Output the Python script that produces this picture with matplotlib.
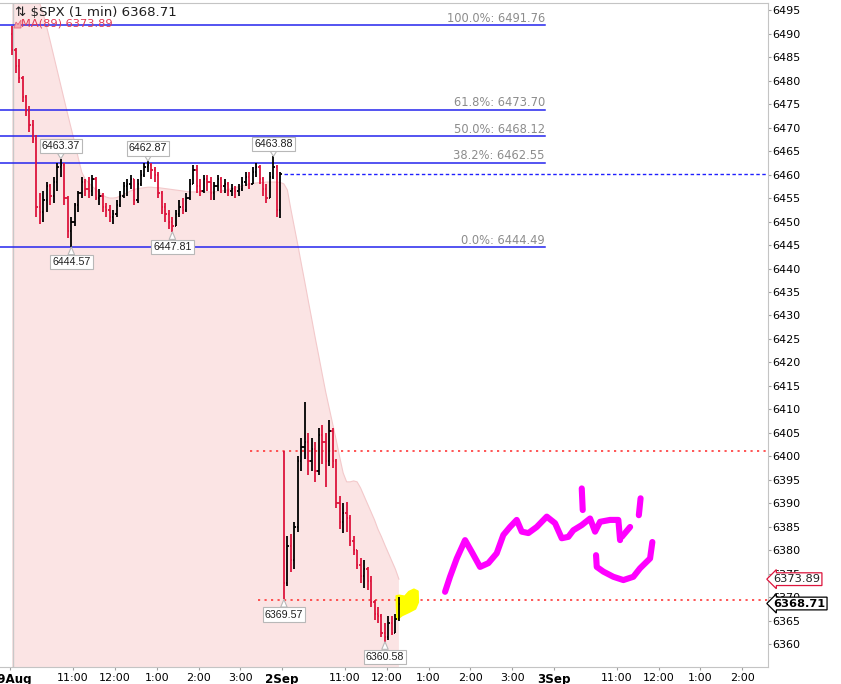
import numpy as np
import matplotlib.pyplot as plt
from matplotlib.collections import LineCollection
from matplotlib.patches import Polygon

# --- $SPX 1 min (5 minute steps) ---
# minutes counted from 29 Aug 9:30, each session is 390 min long
day0_open = 6490.0
day0_close = [6486.5, 6483, 6480.5, 6476.5, 6473.5, 6470.5, 6467.5, 6453, 6452, 6454.5,
              6457.5, 6455.5, 6458.5, 6461.5, 6462, 6455, 6448, 6450, 6453.5, 6456,
              6458.5, 6457, 6456.5, 6459, 6455, 6455.5, 6453, 6452.5, 6451, 6451.5,
              6453.5, 6455.5, 6457.5, 6458, 6459, 6454.5, 6458, 6460, 6461.5, 6462,
              6461, 6460, 6456, 6453, 6451.5, 6450, 6449, 6451.5, 6453, 6452.5,
              6455, 6458, 6461, 6457.5, 6456.5, 6459, 6458.5, 6456, 6457.5, 6459,
              6457.5, 6458, 6456.5, 6457, 6456.5, 6457, 6458.5, 6459.5, 6458, 6460.5,
              6461.5, 6459, 6457, 6455, 6459.5, 6461.5, 6452.5, 6460.1]
day0_high = [6491.5, 6487, 6484.5, 6481, 6477, 6474.5, 6471.5, 6468.5, 6456, 6456.5,
             6458.5, 6458, 6459.5, 6462.5, 6463.37, 6462.5, 6455.5, 6451, 6454, 6456.5,
             6459.5, 6459, 6459.5, 6460, 6459.5, 6457, 6456, 6454, 6453.5, 6452.5,
             6454.5, 6456.5, 6458.5, 6459, 6460, 6459, 6459, 6461, 6462.5, 6462.87,
             6462.5, 6461.5, 6460.5, 6456.5, 6454, 6452.5, 6451, 6452.5, 6454.5, 6455,
             6456, 6459, 6462, 6462, 6459, 6460, 6460, 6459.5, 6458.5, 6460,
             6459.5, 6459, 6458.5, 6458, 6457.5, 6458, 6459.5, 6460.5, 6460.5, 6461.5,
             6462.5, 6462, 6459.5, 6458, 6460.5, 6463.88, 6462, 6460.5]
day0_low = [6485.5, 6481.5, 6479.5, 6475.5, 6472.5, 6469, 6466.8, 6451, 6449.5, 6449.8,
            6452, 6453.5, 6454, 6456.5, 6459.5, 6453.5, 6446.5, 6444.57, 6449, 6452,
            6455, 6455.5, 6455, 6455.5, 6454.5, 6453.5, 6452, 6451, 6450, 6449.5,
            6451, 6453, 6455, 6455.5, 6457, 6453.5, 6454, 6457.5, 6459.5, 6460.5,
            6459, 6458.5, 6455, 6451.5, 6450, 6448.5, 6447.81, 6449, 6451, 6451.5,
            6452, 6454.5, 6458, 6456, 6455.5, 6456, 6456.5, 6454.5, 6454.5, 6456.5,
            6456, 6456, 6455.5, 6455.5, 6455, 6455.5, 6456.5, 6457.5, 6457, 6458,
            6459.5, 6458, 6455.5, 6454, 6455, 6459, 6451, 6450.7]
day0_ma = [6506, 6505, 6504, 6503, 6501.5, 6500, 6499, 6497.5, 6496.3, 6494,
           6491.2, 6488.2, 6485.1, 6482, 6478.9, 6475.8, 6472.7, 6469.7, 6466.7, 6463.5,
           6460.5, 6459, 6458.2, 6457.5, 6456.8, 6456.2, 6455.6, 6455.2, 6455, 6455,
           6455.1, 6455.4, 6455.8, 6456.1, 6456.5, 6456.8, 6457, 6457.1, 6457.2, 6457.3,
           6457.3, 6457.2, 6457.2, 6457.1, 6457, 6456.9, 6456.8, 6456.7, 6456.6, 6456.5,
           6456.4, 6456.3, 6456.3, 6456.3, 6456.3, 6456.3, 6456.3, 6456.3, 6456.3, 6456.4,
           6456.5, 6456.6, 6456.8, 6457, 6457.2, 6457.4, 6457.6, 6457.8, 6458, 6458.1,
           6458.2, 6458.3, 6458.3, 6458.4, 6458.4, 6458.4, 6458.4, 6458.3]

day1_open = 6401.0
day1_close = [6373, 6381, 6378, 6385, 6399, 6402, 6403, 6399, 6401.5, 6397,
              6404.5, 6403, 6399, 6405.5, 6399, 6390, 6386, 6388, 6387, 6382,
              6380, 6377, 6374.5, 6376, 6373.5, 6369, 6366.5, 6366, 6362.5, 6361.5,
              6364.5, 6362.5, 6365.5, 6368.71]
day1_high = [6401.1, 6383, 6383.5, 6386, 6400, 6404, 6411.6, 6405, 6404, 6403,
             6406, 6406.7, 6405, 6407.7, 6406, 6399.5, 6391.5, 6390, 6390.3, 6387.5,
             6383, 6380, 6378.5, 6378, 6376.5, 6374.5, 6369.5, 6368, 6366.5, 6364.5,
             6366, 6366, 6366.5, 6370.1]
day1_low = [6369.57, 6372.5, 6375.5, 6376, 6384, 6397, 6399.5, 6396, 6397, 6394.5,
            6396, 6398.5, 6393.5, 6398, 6397.5, 6389, 6384.5, 6383.7, 6384, 6381,
            6379, 6376, 6373, 6372, 6371.6, 6368, 6365.2, 6364.5, 6361.5, 6360.58,
            6361, 6362, 6362.5, 6365]
day1_ma = [6458, 6456.7, 6452.6, 6448.8, 6445, 6441, 6437.1, 6433.1, 6429.2, 6425.2,
           6421.4, 6417.5, 6413.7, 6410.3, 6406.9, 6403.5, 6399.9, 6396.5, 6394.6, 6394.6,
           6394.8, 6394.6, 6393.3, 6391.6, 6389.9, 6388.2, 6386.5, 6384.5, 6382.9, 6381.1,
           6379.4, 6377.7, 6376, 6373.89]

# fibonacci retracement
fib_pct = [100.0, 61.8, 50.0, 38.2, 0.0]
fib_val = [6491.76, 6473.70, 6468.12, 6462.55, 6444.49]

# labelled highs / lows
callouts = [6463.37, 6462.87, 6463.88, 6444.57, 6447.81, 6369.57, 6360.58]

# red dotted levels (price, start minute)
red_levels = [6401.1, 6369.44]
red_starts = [344, 355]

# magenta hand drawing (minute, price)
pen_strokes = [
    ([623.7, 630.8, 640.5, 652.4, 662.0, 673.9, 685.8, 697.8, 707.3, 716.9, 726.5, 733.7,
      743.2, 755.2, 769.6, 781.5, 791.1, 800.6, 807.7, 819.8, 831.7, 838.9, 846.1, 860.4,
      872.3, 874.8],
     [6371.2, 6374.4, 6378.3, 6382.2, 6379.7, 6376.5, 6377.3, 6379.4, 6383.3, 6385.0,
      6386.5, 6384.0, 6383.7, 6385.0, 6387.2, 6385.8, 6382.6, 6382.9, 6384.3, 6385.4,
      6386.8, 6384.0, 6386.1, 6386.5, 6386.5, 6382.2]),
    ([877.3, 889.2], [6382.9, 6385.0]),
    ([819.8, 821.2], [6393.2, 6388.6]),
    ([904.2, 901.7], [6391.1, 6387.5]),
    ([840.3, 841.3, 850.8, 865.1, 879.5, 893.8, 903.4, 917.8, 921.1],
     [6379.0, 6376.5, 6375.5, 6374.4, 6373.7, 6374.4, 6376.2, 6378.3, 6381.8]),
]
# yellow highlight (minute, price)
hl_x = [554.0, 558.0, 566.0, 572.0, 579.0, 584.5, 585.0, 581.0, 572.0, 562.0, 555.0]
hl_y = [6370.3, 6370.4, 6370.2, 6371.2, 6371.7, 6371.3, 6369.0, 6367.6, 6366.9, 6366.2, 6365.4]

day_names = ['29Aug', '2Sep', '3Sep']
hour_names = ['11:00', '12:00', '1:00', '2:00', '3:00']
hour_offsets = [90, 150, 210, 270, 330]

RED = '#dc143c'
XMIN, XMAX = -14.8, 1087.0


def ohlc(ax, mins, first_open, highs, lows, closes, w=1.9):
    opens = [first_open] + list(closes[:-1])
    segs, cols = [], []
    for m, o, h, l, c in zip(mins, opens, highs, lows, closes):
        col = RED if c < o else 'black'
        segs += [[(m, l), (m, h)], [(m - w, o), (m, o)], [(m, c), (m + w, c)]]
        cols += [col] * 3
    ax.add_collection(LineCollection(segs, colors=cols, linewidths=1.3, zorder=5))


def main():
    plt.rcParams['font.family'] = ['DejaVu Sans']
    fig = plt.figure(figsize=(8.41, 6.84), dpi=100)
    ax = fig.add_axes([0, 17 / 684, 768 / 841, 664 / 684])
    ax.set_xlim(XMIN, XMAX)
    ax.set_ylim(6355.2, 6496.5)

    x0 = 5 * np.arange(len(day0_close)) + 2.5
    x1 = 390 + 5 * np.arange(len(day1_close)) + 2.5
    ma_x = np.concatenate([x0, x1])
    ma_y = np.array(day0_ma + day1_ma)

    # MA(89) area
    ax.fill_between(ma_x, ma_y, 6300, color='#fbe4e4', lw=0, zorder=1)
    ax.plot(ma_x, ma_y, color='#f3c9cb', lw=0.8, zorder=1.2)
    ax.axvline(3.9, color='#c8c8c8', lw=1, zorder=1.5)

    # fib lines
    fib_end = 767
    for p, v in zip(fib_pct, fib_val):
        ax.plot([XMIN, fib_end], [v, v], color='#2525ee', lw=1.1, zorder=3)
        ax.text(fib_end, v + 0.8, f'{p:.1f}%: {v:.2f}', ha='right', va='baseline',
                color='#8c8c8c', fontsize=8.3, zorder=3)

    # previous close + red levels
    ax.plot([392, XMAX], [day0_close[-1]] * 2, color='#1f1fff', lw=1.0,
            ls=(0, (2.5, 1.8)), zorder=3)
    for lv, st in zip(red_levels, red_starts):
        ax.plot([st, XMAX], [lv, lv], color='#ff3838', lw=1.2, ls=(0, (1.3, 2.6)), zorder=3)

    ax.add_patch(Polygon(np.column_stack([hl_x, hl_y]), closed=True, fc='#ffff00',
                         ec='#ffff00', lw=1.5, joinstyle='round', zorder=4))

    ohlc(ax, x0, day0_open, day0_high, day0_low, day0_close)
    ohlc(ax, x1, day1_open, day1_high, day1_low, day1_close)

    for sx, sy in pen_strokes:
        ax.plot(sx, sy, color='#ff00ff', lw=4.4, solid_capstyle='round',
                solid_joinstyle='round', zorder=6)

    # callouts on highs / lows
    all_x = np.concatenate([x0, x1])
    all_h = np.array(day0_high + day1_high)
    all_l = np.array(day0_low + day1_low)
    for v in callouts:
        dh, dl = np.abs(all_h - v), np.abs(all_l - v)
        if dh.min() < dl.min():
            xm, dy, va = all_x[dh.argmin()], 5.5, 'bottom'
        else:
            xm, dy, va = all_x[dl.argmin()], -7.3, 'top'
        ax.annotate(f'{v:.2f}', xy=(xm, v), xytext=(0, dy), textcoords='offset points',
                    ha='center', va=va, fontsize=7.7, family='Liberation Sans',
                    color='#202020', zorder=7,
                    bbox=dict(boxstyle='square,pad=0.2', fc='white', ec='#b8b8b8', lw=0.8),
                    arrowprops=dict(arrowstyle='wedge,tail_width=0.6', fc='white',
                                    ec='#b8b8b8', lw=0.8, shrinkA=0, shrinkB=0))

    # axes styling
    for s in ['top', 'right', 'bottom']:
        ax.spines[s].set_color('#c4c4c4')
    ax.spines['left'].set_visible(False)
    ax.yaxis.tick_right()
    ax.set_yticks(np.arange(6360, 6496, 5))
    ax.tick_params(axis='y', length=2.2, pad=0.8, labelsize=8, color='#a0a0a0')

    ticks, labs = [], []
    for d, name in enumerate(day_names):
        base = 390 * d
        ticks.append(base)
        labs.append(name)
        for off, lab in zip(hour_offsets, hour_names):
            if base + off < XMAX:
                ticks.append(base + off)
                labs.append(lab)
    ax.set_xticks(ticks)
    ax.set_xticklabels(labs)
    ax.tick_params(axis='x', length=2.5, pad=1.5, labelsize=8, color='#a0a0a0')
    for t in ax.get_xticklabels():
        if t.get_text() in day_names:
            t.set_fontweight('bold')
            t.set_fontsize(8.6)

    # right axis tags: last MA and last price
    ax.annotate(f'{day1_ma[-1]:.2f}', xy=(1, day1_ma[-1]), xycoords=('axes fraction', 'data'),
                xytext=(4, 0), textcoords='offset points', ha='left', va='center',
                fontsize=8.2, color='#202020', annotation_clip=False, zorder=8,
                bbox=dict(boxstyle='larrow,pad=0.12', fc='white', ec=RED, lw=0.9))
    ax.annotate(f'{day1_close[-1]:.2f}', xy=(1, day1_close[-1]),
                xycoords=('axes fraction', 'data'), xytext=(4, 0), textcoords='offset points',
                ha='left', va='center', fontsize=8.2, fontweight='bold', color='black',
                annotation_clip=False, zorder=8,
                bbox=dict(boxstyle='larrow,pad=0.12', fc='white', ec='black', lw=0.9))

    # header
    fig.text(15 / 841, 1 - 12.5 / 684, '\u21c5 \\$SPX (1 min) ' + f'{day1_close[-1]:.2f}',
             ha='left', va='center', fontsize=9.6, color='#202020')
    icon = [(14, 28), (16, 22), (18, 24.5), (21, 20), (21, 28)]
    fig.add_artist(Polygon([(px / 841, 1 - py / 684) for px, py in icon], closed=True,
                           fc='#f2a9b2', ec='#e56a7c', lw=0.6, transform=fig.transFigure))
    fig.text(21 / 841, 1 - 23.5 / 684, f'MA(89) {day1_ma[-1]:.2f}', ha='left', va='center',
             fontsize=8.2, color='#e23a55')

    fig.savefig('out.png', dpi=100)


if __name__ == '__main__':
    main()
